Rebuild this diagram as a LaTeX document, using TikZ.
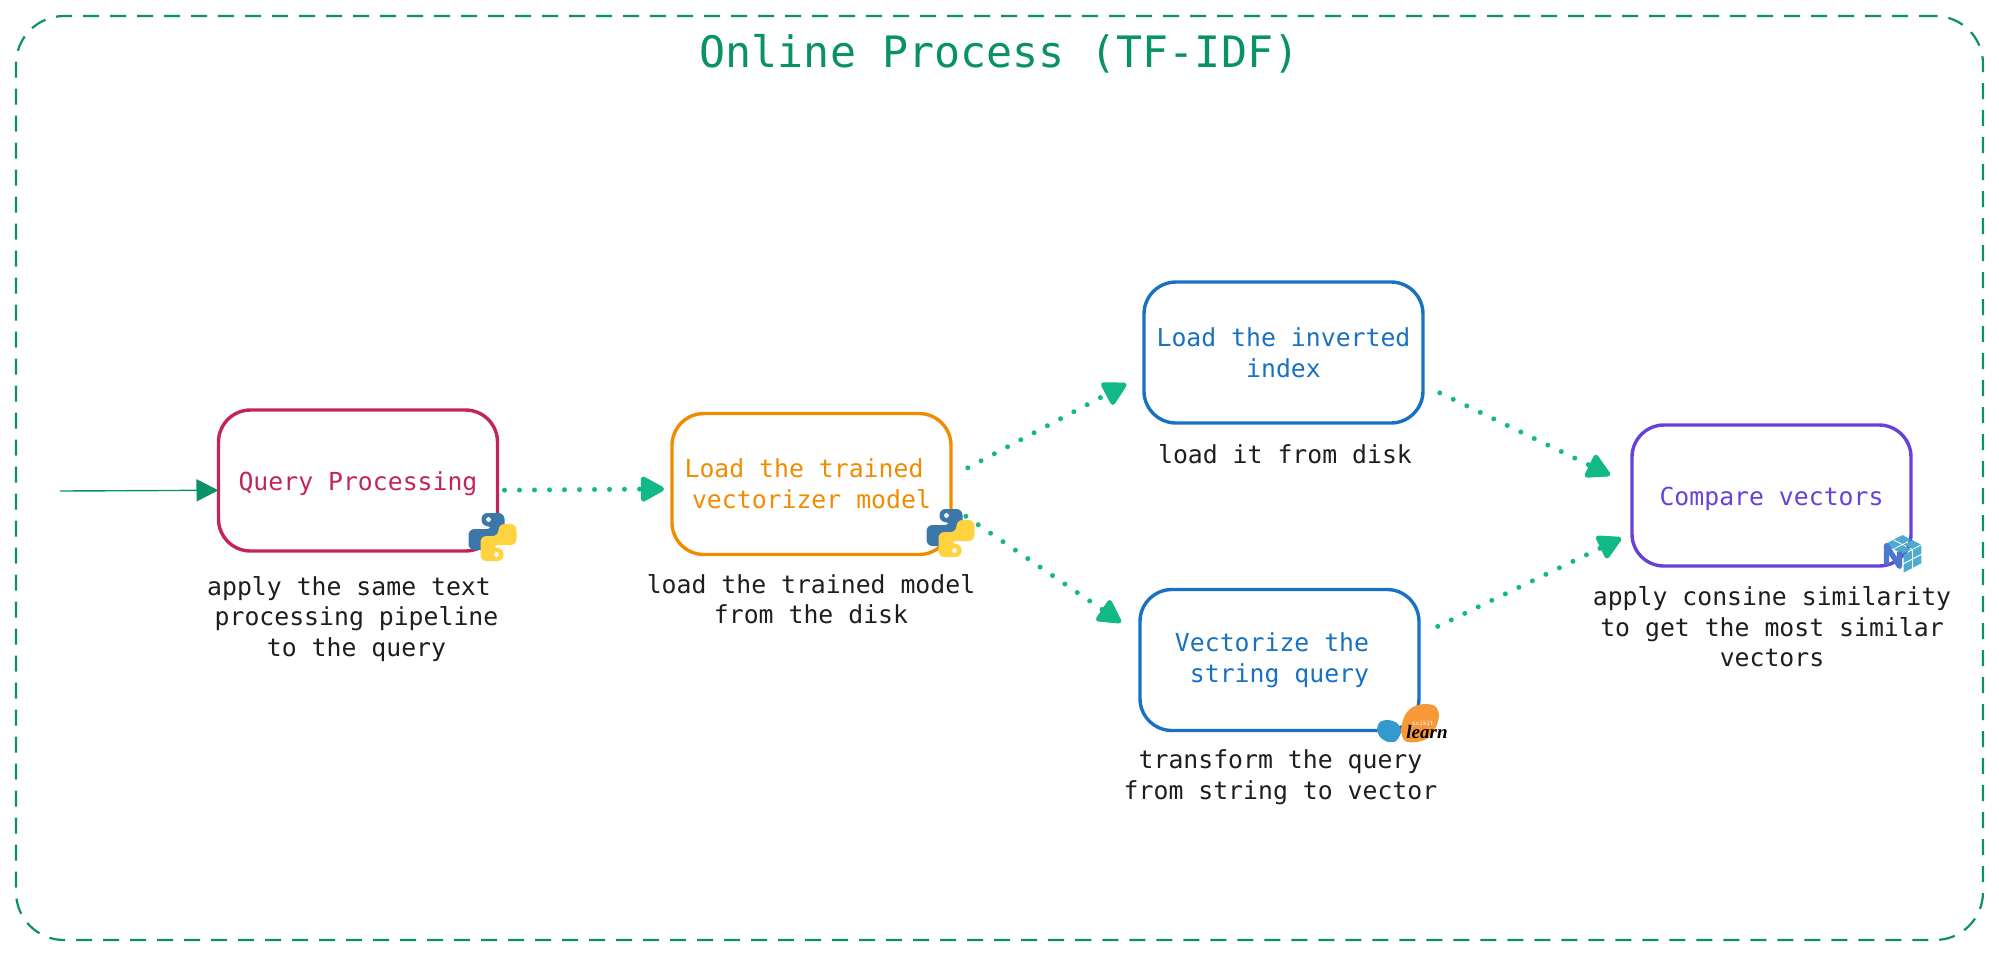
\documentclass[tikz,border=0pt]{standalone}
\usepackage{fontspec}
\setmainfont{DejaVu Sans Mono}
\newfontfamily\learnfont{Liberation Serif}
\usetikzlibrary{arrows.meta}
\definecolor{framegreen}{HTML}{099268}
\definecolor{dotgreen}{HTML}{12B886}
\definecolor{qpred}{HTML}{C2255C}
\definecolor{loadorange}{HTML}{F08C00}
\definecolor{stepblue}{HTML}{1971C2}
\definecolor{cmppurple}{HTML}{6741D9}
\definecolor{labelblack}{HTML}{1E1E1E}
\definecolor{pyblue}{HTML}{3B77A8}
\definecolor{pyyellow}{HTML}{FFD33F}
\definecolor{sklorange}{HTML}{F89939}
\definecolor{sklblue}{HTML}{3499CD}
\definecolor{nptile}{HTML}{4DABCF}
\definecolor{npdark}{HTML}{4D77CF}
\newcommand{\pylogo}[1]{
	\begin{scope}[shift={#1}]
		\fill[pyblue, rounded corners=3pt] (-11,-24) -- (12,-24) -- (12,1) -- (-6,1) -- (-6,13) -- (-24,13) -- (-24,-8) -- (0,-8) -- (0,-11) -- (-11,-11) -- cycle;
		\fill[pyyellow, rounded corners=3pt, rotate=180] (-11,-24) -- (12,-24) -- (12,1) -- (-6,1) -- (-6,13) -- (-24,13) -- (-24,-8) -- (0,-8) -- (0,-11) -- (-11,-11) -- cycle;
		\fill[white] (-4,-17.5) circle (1.2pt);
		\fill[white] (4,17.5) circle (1.2pt);
	\end{scope}
}
\newcommand{\nplogo}[1]{
	\begin{scope}[shift={#1}]
		\foreach \u in {0,1} \foreach \v in {0,1} {
			\fill[nptile] ({\u*9.75-\v*9.75},{-19+\u*5+\v*5+0.6}) -- ++(8.6,4.4) -- ++(-8.6,4.4) -- ++(-8.6,-4.4) -- cycle;
			\fill[nptile] ({1.2+\u*9.4},{1.2-\u*5+\v*9.6}) -- ++(8.2,-4.2) -- ++(0,8.2) -- ++(-8.2,4.2) -- cycle;
		}
		\draw[npdark, line width=2.6pt, line join=round] (-16,11) -- (-16,-8) -- (-3,13) -- (-3,-2);
	\end{scope}
}
\begin{document}
\begin{tikzpicture}[x=0.5pt,y=-0.5pt]
	\tikzstyle{boxnode}=[draw, rounded corners=16pt, line width=1.7pt, minimum width=139.5pt, minimum height=70.5pt, outer sep=0pt, align=center, font=\fontsize{12.4}{15.3}\selectfont, execute at begin node={\rule{0pt}{12.2pt}}]
	\tikzstyle{labelnode}=[text=labelblack, align=center, inner sep=0pt, font=\fontsize{12.4}{15.3}\selectfont]
	\tikzstyle{dotarrow}=[dotgreen, line width=2.5pt, line cap=round, dash pattern=on 0pt off 7.5pt, -{Triangle[length=13pt,width=13.5pt,round]}]
	\useasboundingbox (0,0) rectangle (1999,955);
	\path (999.5,478) node[draw=framegreen, dash pattern=on 8pt off 5.5pt, line width=1.1pt, rounded corners=24pt, minimum width=983.5pt, minimum height=462pt] (frame) {};
	\path (999.5,54) node[text=framegreen, inner sep=0pt, font=\fontsize{21.65}{26}\selectfont] (title) {Online Process (TF-IDF)};

	\path (358,480.5) node[boxnode, draw=qpred, text=qpred] (query) {Query Processing};
	\path (811.5,484) node[boxnode, draw=loadorange, text=loadorange] (load) {Load the trained\hphantom{x}\\vectorizer model};
	\path (1283.5,352.5) node[boxnode, draw=stepblue, text=stepblue] (inverted) {Load the inverted\\index};
	\path (1279.5,660) node[boxnode, draw=stepblue, text=stepblue] (vectorize) {Vectorize the\hphantom{x}\\string query};
	\path (1771.5,495.5) node[boxnode, draw=cmppurple, text=cmppurple] (compare) {Compare vectors};

	\path (356.5,619) node[labelnode] (querytext) {apply the same text\hphantom{x}\\processing pipeline\\to the query};
	\path (811,599) node[labelnode] (loadtext) {load the trained model\\from the disk};
	\path (1285,454.5) node[labelnode] (invertedtext) {load it from disk};
	\path (1280.5,777) node[labelnode] (vectorizetext) {transform the query\\from string to vector};
	\path (1772,627) node[labelnode] (comparetext) {apply consine similarity\\to get the most similar\\vectors};

	\coordinate (start) at (60,491);
	\draw[framegreen, line width=0.7pt, -{Triangle[length=11pt,width=11pt]}] (start) -- (query.184.8);
	\draw[dotarrow, shorten <=3.5pt, shorten >=4pt] (query.-4) -- (load.182.5);
	\draw[dotarrow, shorten <=9.5pt, shorten >=10pt] (load.3) -- (inverted.189.4);
	\draw[dotarrow, shorten <=9pt, shorten >=11.5pt] (load.-9) -- (vectorize.170);
	\draw[dotarrow, shorten <=9.3pt, shorten >=12.2pt] (inverted.-13.4) -- (compare.176.35);
	\draw[dotarrow, shorten <=10.4pt, shorten >=6pt] (vectorize.10.5) -- (compare.195.35);

	\pylogo{(492.5,537)}
	\pylogo{(950.5,533)}
	\nplogo{(1902.5,553.5)}

	\fill[sklblue] plot[smooth cycle] coordinates {(1388,720) (1397,723) (1401,732) (1396,741) (1388,742) (1380,737) (1377,729) (1380,722)};
	\fill[sklorange] plot[smooth cycle] coordinates {(1424,704) (1435,706) (1439,715) (1436,727) (1428,738) (1417,742) (1405,741) (1401,730) (1405,715) (1413,707)};
	\path (1423,723) node[text=white, inner sep=0pt, font=\fontsize{3}{3}\selectfont] (scikit) {scikit};
	\path (1427,732) node[text=black, inner sep=0pt, font=\learnfont\bfseries\itshape\fontsize{9.5}{10}\selectfont] (learn) {learn};
\end{tikzpicture}
\end{document}
